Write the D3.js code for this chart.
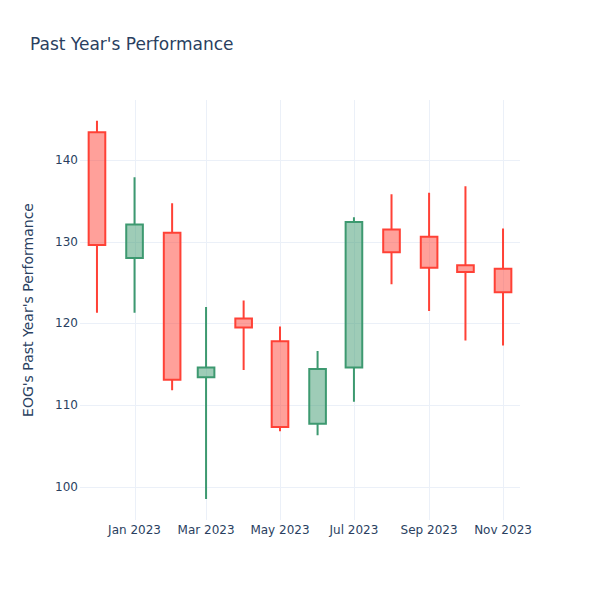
<!DOCTYPE html>
<html>
<head>
<meta charset="utf-8">
<script src="https://cdn.jsdelivr.net/npm/d3@7"></script>
<style>
  html, body { margin: 0; padding: 0; background: #fff; }
  svg { display: block; font-family: "DejaVu Sans", sans-serif; }
</style>
</head>
<body>
<svg id="chart" width="600" height="600"></svg>
<script>
const dates = ["2022-12-01","2023-01-01","2023-02-01","2023-03-01","2023-04-01","2023-05-01",
               "2023-06-01","2023-07-01","2023-08-01","2023-09-01","2023-10-01","2023-11-01"];
const open  = [143.4, 128.0, 131.1, 113.4, 120.6, 117.8, 107.7, 114.6, 131.5, 130.6, 127.1, 126.7];
const high  = [144.8, 137.9, 134.7, 122.0, 122.8, 119.6, 116.6, 133.0, 135.8, 136.0, 136.8, 131.6];
const low   = [121.3, 121.3, 111.8,  98.5, 114.3, 106.8, 106.3, 110.4, 124.8, 121.5, 117.9, 117.3];
const close = [129.6, 132.1, 113.1, 114.6, 119.5, 107.3, 114.4, 132.4, 128.7, 126.8, 126.3, 123.8];
const yTicks = [100, 110, 120, 130, 140];
const xTickLabels = ["Jan 2023","Mar 2023","May 2023","Jul 2023","Sep 2023","Nov 2023"];
const xTickDates = ["2023-01-01","2023-03-01","2023-05-01","2023-07-01","2023-09-01","2023-11-01"];
const titleText = "Past Year's Performance";
const yTitleText = "EOG's Past Year's Performance";

const W = 600, H = 600;
const m = {l: 80, r: 80, t: 100, b: 80};
const svg = d3.select("#chart");
const parse = d3.utcParse("%Y-%m-%d");
const data = dates.map((d, i) => ({date: parse(d), o: open[i], h: high[i], l: low[i], c: close[i]}));

let minDiff = Infinity;
for (let i = 1; i < data.length; i++) minDiff = Math.min(minDiff, data[i].date - data[i-1].date);
const pad = minDiff / 2;

const x = d3.scaleUtc()
  .domain([new Date(+data[0].date - pad), new Date(+data[data.length-1].date + pad)])
  .range([m.l, W - m.r]);
const y = d3.scaleLinear().domain([95.92, 147.35]).range([H - m.b, m.t]);

const grid = "#ebf0f8", textCol = "#2a3f5f";

// grid
svg.append("g").selectAll("line").data(yTicks).join("line")
  .attr("x1", m.l).attr("x2", W - m.r)
  .attr("y1", d => Math.round(y(d)) + 0.5).attr("y2", d => Math.round(y(d)) + 0.5)
  .attr("stroke", grid).attr("stroke-width", 1);
svg.append("g").selectAll("line").data(xTickDates).join("line")
  .attr("x1", d => Math.round(x(parse(d))) + 0.5).attr("x2", d => Math.round(x(parse(d))) + 0.5)
  .attr("y1", m.t).attr("y2", H - m.b)
  .attr("stroke", grid).attr("stroke-width", 1);

// axes labels
svg.append("g").selectAll("text").data(yTicks).join("text")
  .attr("x", m.l - 2).attr("y", d => y(d) + 4)
  .attr("text-anchor", "end").attr("font-size", 12).attr("fill", textCol)
  .text(d => d);
svg.append("g").selectAll("text").data(xTickDates).join("text")
  .attr("x", d => x(parse(d))).attr("y", H - m.b + 13.5)
  .attr("text-anchor", "middle").attr("font-size", 12).attr("fill", textCol)
  .text((d, i) => xTickLabels[i]);

// candles
const halfW = (x(new Date(+data[0].date + pad)) - x(data[0].date)) * 0.49;
const incLine = "#3D9970", decLine = "#FF4136";
const g = svg.append("g");
data.forEach(d => {
  const inc = d.c >= d.o;
  const col = inc ? incLine : decLine;
  const cx = x(d.date);
  const top = y(Math.max(d.o, d.c)), bot = y(Math.min(d.o, d.c));
  g.append("path")
    .attr("d", `M${cx - halfW},${top}H${cx + halfW}V${bot}H${cx - halfW}Z` +
               `M${cx},${top}V${y(d.h)}M${cx},${bot}V${y(d.l)}`)
    .attr("fill", col).attr("fill-opacity", 0.5)
    .attr("stroke", col).attr("stroke-width", 2);
});

// titles
svg.append("text").attr("x", 30).attr("y", 50)
  .attr("font-size", 17).attr("fill", textCol).text(titleText);
svg.append("text")
  .attr("transform", `translate(28.5,${(m.t + H - m.b) / 2}) rotate(-90)`)
  .attr("text-anchor", "middle").attr("dy", "0.35em")
  .attr("font-size", 14).attr("fill", textCol).text(yTitleText);
</script>
</body>
</html>
